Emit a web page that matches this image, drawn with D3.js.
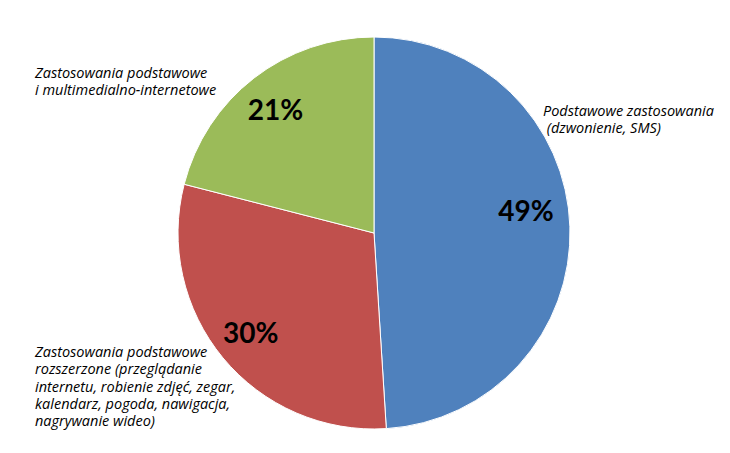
<!DOCTYPE html>
<html><head><meta charset="utf-8">
<script src="https://cdn.jsdelivr.net/npm/d3@7"></script>
<style>body{margin:0;background:#fff}svg{display:block}</style>
</head><body>
<svg id="c" width="730" height="453"></svg>
<script>
const categories = [
  "Podstawowe zastosowania\n (dzwonienie, SMS)",
  "Zastosowania podstawowe\nrozszerzone (przeglądanie\ninternetu, robienie zdjęć, zegar,\nkalendarz, pogoda, nawigacja,\nnagrywanie wideo)",
  "Zastosowania podstawowe\ni multimedialno-internetowe"
];
const values = [49, 30, 21];
const percentLabels = ["49%", "30%", "21%"];
const colors = ["#4F81BD", "#C0504D", "#9BBB59"];

const W = 730, H = 453, cx = 374, cy = 233, R = 196;
const svg = d3.select("#c");
const g = svg.append("g").attr("transform", `translate(${cx},${cy})`);
const pie = d3.pie().sort(null).value(d => d)(values);
const arc = d3.arc().innerRadius(0).outerRadius(R);
g.selectAll("path").data(pie).join("path")
  .attr("d", arc).attr("fill", (d,i) => colors[i])
  .attr("stroke", "#fff").attr("stroke-width", 1);

const labArc = d3.arc().innerRadius(156).outerRadius(156);
const nudge = [[-4,-17],[-3,0],[-3,0]];
g.selectAll("text.p").data(pie).join("text").attr("class","p")
  .attr("x", (d,i) => labArc.centroid(d)[0] + nudge[i][0])
  .attr("y", (d,i) => labArc.centroid(d)[1] + nudge[i][1])
  .attr("text-anchor","middle").attr("dy","0.36em")
  .style("font-family","Lato, 'Open Sans', sans-serif").style("font-weight","bold")
  .style("font-size","28px").attr("fill","#000")
  .text((d,i) => percentLabels[i]);

const catPos = [[543,116],[35,357],[35,78]];
const lineH = 17.3;
categories.forEach((c,i) => {
  const t = svg.append("text").attr("x", catPos[i][0]).attr("y", catPos[i][1])
    .style("font-family","'Open Sans', sans-serif").style("font-style","italic")
    .style("font-size","14.5px").attr("fill","#000").attr("xml:space","preserve");
  c.split("\n").forEach((ln,j) => {
    t.append("tspan").attr("x", catPos[i][0]).attr("y", catPos[i][1] + j*lineH).text(ln);
  });
});
</script>
</body></html>
